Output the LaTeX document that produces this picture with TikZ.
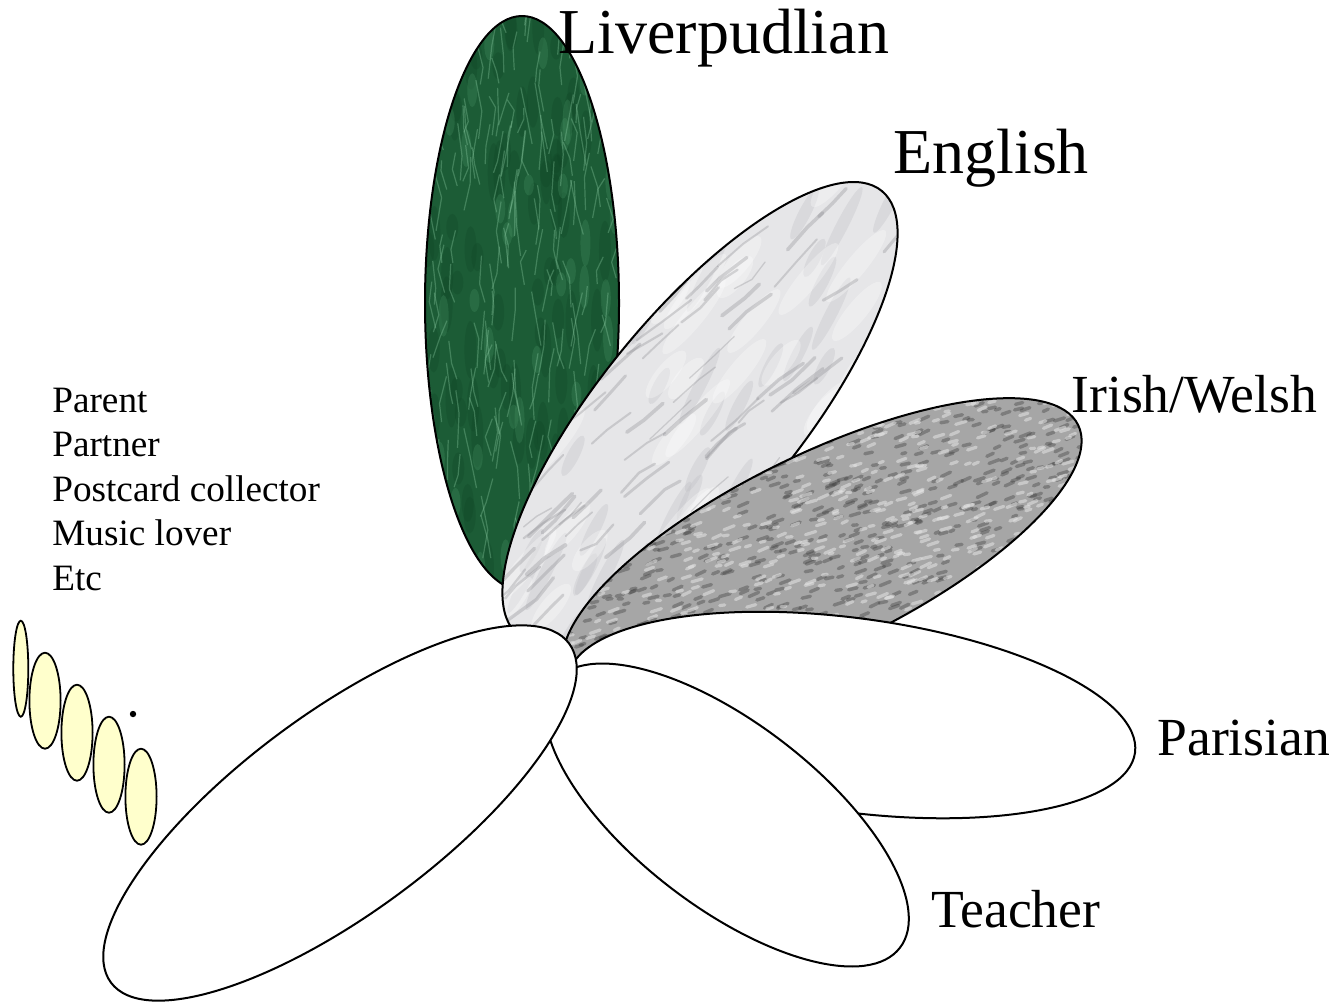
\documentclass[tikz,border=0pt]{standalone}
\usepackage{fontspec}
\setmainfont{Liberation Serif}

\definecolor{jadebase}{HTML}{1C5C36}
\definecolor{jadedark}{HTML}{0E4223}
\definecolor{jadelight}{HTML}{4E9A6A}
\definecolor{jadevein}{HTML}{8ACBA2}
\definecolor{marblebase}{HTML}{E6E6E8}
\definecolor{marblesoft}{HTML}{BDBDC2}
\definecolor{marblevein}{HTML}{85858A}
\definecolor{granitebase}{HTML}{A6A6A6}
\definecolor{granitedark}{HTML}{404040}
\definecolor{granitelight}{HTML}{E4E4E4}
\definecolor{lemon}{HTML}{FFFFCC}

\begin{document}
\begin{tikzpicture}[x=0.5pt, y=-0.5pt,
  outline/.style={draw=black, line width=1pt},
  bud/.style={draw=black, line width=0.9pt, fill=lemon},
  bigtxt/.style={font=\fontsize{32}{38}\selectfont, anchor=base west, inner sep=0pt},
  midtxt/.style={font=\fontsize{26.8}{32}\selectfont, anchor=base west, inner sep=0pt},
  listtxt/.style={font=\fontsize{18.6}{22}\selectfont, anchor=base west, inner sep=0pt},
]
  \useasboundingbox (0,0) rectangle (1332,1003);
  \pgfmathsetseed{7}

  % ═══ Liverpudlian petal: green marble ═══════════════════════
  \begin{scope}[shift={(522,303)}, rotate=90]
    \clip (0,0) ellipse [x radius=287, y radius=97];
    \fill[jadebase] (-300,-110) rectangle (300,110);
    \foreach \k in {1,...,90} {
      \pgfmathsetmacro\rx{12+20*rnd}
      \fill[jadedark, opacity=0.25] ({280*rand},{95*rand}) ellipse [x radius=\rx, y radius=6];
    }
    \foreach \k in {1,...,40} {
      \pgfmathsetmacro\rx{10+15*rnd}
      \fill[jadelight, opacity=0.25] ({280*rand},{95*rand}) ellipse [x radius=\rx, y radius=5];
    }
    \foreach \k in {1,...,200} {
      \draw[jadevein, opacity=0.35, line width=0.6pt]
        ({285*rand},{95*rand}) -- ++({10+25*rnd},{7*rand}) -- ++({10+25*rnd},{7*rand});
    }
  \end{scope}
  \draw[outline] (522,303) ellipse [x radius=97, y radius=287];

  % ═══ English petal: white marble ════════════════════════════
  \begin{scope}[shift={(700,413)}, rotate=50.7]
    \clip (0,0) ellipse [x radius=287, y radius=100];
    \fill[marblebase] (-300,-110) rectangle (300,110);
    \foreach \k in {1,...,40} {
      \pgfmathsetmacro\rx{20+25*rnd}
      \fill[marblesoft, opacity=0.3, rotate around={12:(0,0)}] ({280*rand},{100*rand}) ellipse [x radius=\rx, y radius=6];
    }
    \foreach \k in {1,...,30} {
      \pgfmathsetmacro\rx{25+25*rnd}
      \fill[white, opacity=0.3] ({280*rand},{100*rand}) ellipse [x radius=\rx, y radius=10];
    }
    \foreach \k in {1,...,80} {
      \pgfmathsetmacro\lw{0.6+1.4*rnd}
      \draw[marblevein, opacity=0.3, line width=\lw pt, line cap=round]
        ({290*rand},{105*rand}) -- ++({15+20*rnd},{4+5*rand}) -- ++({15+20*rnd},{4+5*rand});
    }
  \end{scope}
  \draw[outline, rotate around={50.7:(700,413)}] (700,413) ellipse [x radius=287, y radius=100];

  % ═══ Irish/Welsh petal: granite ═════════════════════════════
  \begin{scope}[shift={(822,550)}, rotate=26]
    \clip (0,0) ellipse [x radius=285, y radius=96];
    \fill[granitebase] (-300,-110) rectangle (300,110);
    \foreach \k in {1,...,700} {
      \draw[granitedark, opacity=0.4, line width=1.7pt, line cap=round]
        ({290*rand},{100*rand}) -- ++({4+7*rnd},{1+rand});
    }
    \foreach \k in {1,...,550} {
      \draw[granitelight, opacity=0.55, line width=1.6pt, line cap=round]
        ({290*rand},{100*rand}) -- ++({4+7*rnd},{1+rand});
    }
  \end{scope}
  \draw[outline, rotate around={26:(822,550)}] (822,550) ellipse [x radius=285, y radius=96];

  % ═══ Plain petals ═══════════════════════════════════════════
  \draw[outline, fill=white, rotate around={-7.55:(851.5,715)}] (851.5,715) ellipse [x radius=286, y radius=97];
  \draw[outline, fill=white, rotate around={-37.5:(727,815)}] (727,815) ellipse [x radius=218, y radius=92];
  \draw[outline, fill=white, rotate around={36.5:(340,813)}] (340,813) ellipse [x radius=285, y radius=100];

  % ═══ Small buds ═════════════════════════════════════════════
  \draw[bud] (20.8,668.7) ellipse [x radius=7.5, y radius=48];
  \foreach \i in {0,...,3} {
    \draw[bud] ({45+32*\i},{700.7+32*\i}) ellipse [x radius=15.6, y radius=48];
  }
  \fill (133,714) circle [radius=3.2];

  % ═══ Labels ═════════════════════════════════════════════════
  \node[bigtxt] (liverpool) at (558,53.5) {Liverpudlian};
  \node[bigtxt] (english)   at (893,173.5) {English};
  \node[midtxt] (celtic)    at (1071,412) {Irish/Welsh};
  \node[midtxt] (parisian)  at (1157,755) {Parisian};
  \node[midtxt] (teacher)   at (931,927) {Teacher};

  \foreach \t [count=\i] in {Parent, Partner, Postcard collector, Music lover, Etc} {
    \node[listtxt] (role\i) at (52,{412+44.5*(\i-1)}) {\t};
  }
\end{tikzpicture}
\end{document}
